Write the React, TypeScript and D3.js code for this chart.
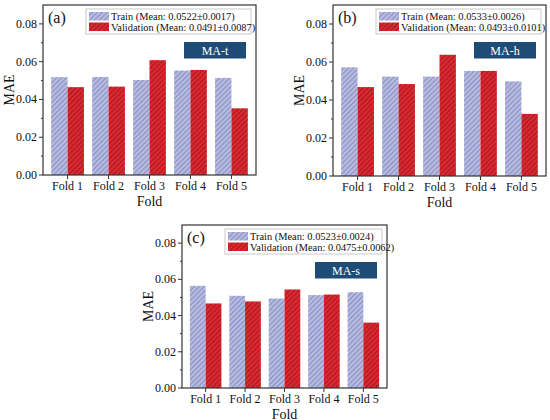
import React from "react";
import * as d3 from "d3";

// folds on the x axis
const folds = ["Fold 1", "Fold 2", "Fold 3", "Fold 4", "Fold 5"];
const yTicks = [0, 0.02, 0.04, 0.06, 0.08];

// MAE values
const trainT = [0.0518, 0.0519, 0.0503, 0.0553, 0.0514];
const validT = [0.0465, 0.0468, 0.0608, 0.0556, 0.0353];
const trainH = [0.0572, 0.0523, 0.0523, 0.0553, 0.0498];
const validH = [0.0468, 0.0484, 0.0638, 0.0553, 0.0327];
const trainS = [0.0564, 0.0509, 0.0494, 0.0513, 0.0529];
const validS = [0.0467, 0.0478, 0.0544, 0.0516, 0.0361];

const panelLetters = ["(a)", "(b)", "(c)"];
const modelNames = ["MA-t", "MA-h", "MA-s"];
const trainLegend = [
  "Train (Mean: 0.0522±0.0017)",
  "Train (Mean: 0.0533±0.0026)",
  "Train (Mean: 0.0523±0.0024)",
];
const validLegend = [
  "Validation (Mean: 0.0491±0.0087)",
  "Validation (Mean: 0.0493±0.0101)",
  "Validation (Mean: 0.0475±0.0062)",
];

const FONT = "'Liberation Serif', 'Times New Roman', serif";
const TRAIN_FILL = "#b5bade";
const TRAIN_LINE = "#878ec6";
const VALID_FILL = "#da2830";
const VALID_LINE = "#a5181e";
const LABEL_BOX = "#1e4c76";

const layouts = [
  { left: 43, right: 256, top: 5, bottom: 175 },
  { left: 333, right: 546, top: 5, bottom: 176 },
  { left: 182, right: 387, top: 225, bottom: 388 },
];

const Panel = ({ idx, train, valid }) => {
  const { left, right, top, bottom } = layouts[idx];

  const x = d3
    .scaleBand()
    .domain(folds)
    .range([left, right])
    .paddingInner(0.2)
    .paddingOuter(0.2);
  const sub = d3
    .scaleBand()
    .domain(["train", "valid"])
    .range([0, x.bandwidth()]);
  const y = d3.scaleLinear().domain([0, 0.09]).range([bottom, top]);
  const minor = d3.range(0.01, 0.09, 0.02);

  const legX = left + 43;
  const legW = right - 5 - legX;
  const legY = top + 4;

  return (
    <g>
      {folds.map((f, i) => (
        <g key={f}>
          <rect
            x={x(f) + sub("train")}
            y={y(train[i])}
            width={sub.bandwidth()}
            height={bottom - y(train[i])}
            fill="url(#hatchTrain)"
          />
          <rect
            x={x(f) + sub("valid")}
            y={y(valid[i])}
            width={sub.bandwidth()}
            height={bottom - y(valid[i])}
            fill="url(#hatchValid)"
          />
        </g>
      ))}

      {/* frame */}
      <rect
        x={left}
        y={top}
        width={right - left}
        height={bottom - top}
        fill="none"
        stroke="#333"
        strokeWidth={1.2}
      />

      {/* y axis */}
      {yTicks.map((t) => (
        <g key={t}>
          <line x1={left - 4} x2={left} y1={y(t)} y2={y(t)} stroke="#333" />
          <text
            x={left - 6}
            y={y(t)}
            textAnchor="end"
            dominantBaseline="central"
            fontSize={12}
            fontFamily={FONT}
            fill="#111"
          >
            {t.toFixed(2)}
          </text>
        </g>
      ))}
      {minor.map((t) => (
        <line key={t} x1={left - 2} x2={left} y1={y(t)} y2={y(t)} stroke="#333" />
      ))}
      <text
        transform={`translate(${left - 34},${(top + bottom) / 2}) rotate(-90)`}
        textAnchor="middle"
        dominantBaseline="central"
        fontSize={14}
        fontFamily={FONT}
        fill="#111"
      >
        MAE
      </text>

      {/* x axis */}
      {folds.map((f) => (
        <g key={f}>
          <line
            x1={x(f) + x.bandwidth() / 2}
            x2={x(f) + x.bandwidth() / 2}
            y1={bottom}
            y2={bottom + 4}
            stroke="#333"
          />
          <text
            x={x(f) + x.bandwidth() / 2}
            y={bottom + 11}
            textAnchor="middle"
            dominantBaseline="central"
            fontSize={12}
            fontFamily={FONT}
            fill="#111"
          >
            {f}
          </text>
        </g>
      ))}
      <text
        x={(left + right) / 2}
        y={bottom + 26}
        textAnchor="middle"
        dominantBaseline="central"
        fontSize={14}
        fontFamily={FONT}
        fill="#111"
      >
        Fold
      </text>

      {/* panel letter */}
      <text
        x={left + 5}
        y={top + 12}
        dominantBaseline="central"
        fontSize={16}
        fontFamily={FONT}
        fill="#111"
      >
        {panelLetters[idx]}
      </text>

      {/* legend */}
      <rect
        x={legX}
        y={legY}
        width={legW}
        height={25}
        fill="white"
        stroke="#bbb"
        strokeWidth={0.8}
      />
      <rect x={legX + 3} y={legY + 3} width={20} height={8.5} fill="url(#hatchTrain)" />
      <rect x={legX + 3} y={legY + 13.5} width={20} height={8.5} fill="url(#hatchValid)" />
      <text
        x={legX + 25}
        y={legY + 7.5}
        dominantBaseline="central"
        fontSize={10.4}
        fontFamily={FONT}
        fill="#111"
      >
        {trainLegend[idx]}
      </text>
      <text
        x={legX + 25}
        y={legY + 18}
        dominantBaseline="central"
        fontSize={10.4}
        fontFamily={FONT}
        fill="#111"
      >
        {validLegend[idx]}
      </text>

      {/* model label */}
      <rect x={right - 72} y={top + 37} width={62} height={16.5} fill={LABEL_BOX} />
      <text
        x={right - 41}
        y={top + 45.5}
        textAnchor="middle"
        dominantBaseline="central"
        fontSize={12}
        fontFamily={FONT}
        fill="white"
      >
        {modelNames[idx]}
      </text>
    </g>
  );
};

export default function App() {
  return (
    <svg
      width={550}
      height={420}
      style={{ position: "absolute", left: 0, top: 0, background: "white" }}
    >
      <defs>
        <pattern
          id="hatchTrain"
          patternUnits="userSpaceOnUse"
          width={3.5}
          height={3.5}
          patternTransform="rotate(45)"
        >
          <rect width={3.5} height={3.5} fill={TRAIN_FILL} />
          <line x1={0.5} x2={0.5} y1={0} y2={3.5} stroke={TRAIN_LINE} strokeWidth={1} />
        </pattern>
        <pattern
          id="hatchValid"
          patternUnits="userSpaceOnUse"
          width={3.5}
          height={3.5}
          patternTransform="rotate(45)"
        >
          <rect width={3.5} height={3.5} fill={VALID_FILL} />
          <line x1={0.5} x2={0.5} y1={0} y2={3.5} stroke={VALID_LINE} strokeWidth={1} />
        </pattern>
      </defs>
      <rect width={550} height={420} fill="white" />
      <Panel idx={0} train={trainT} valid={validT} />
      <Panel idx={1} train={trainH} valid={validH} />
      <Panel idx={2} train={trainS} valid={validS} />
    </svg>
  );
}
